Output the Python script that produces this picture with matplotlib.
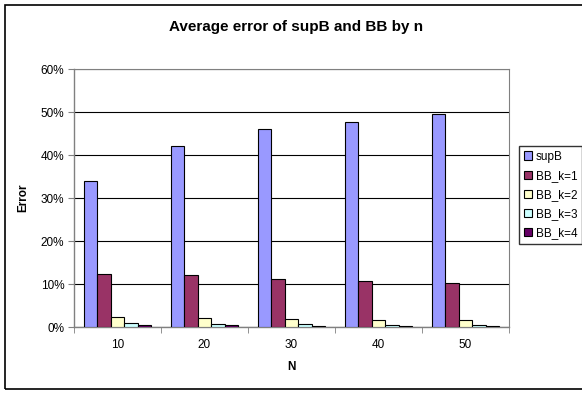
import numpy as np
from matplotlib import pyplot as plt
from matplotlib.patches import Rectangle
from matplotlib.ticker import FuncFormatter

plt.rcParams['font.family'] = ['Liberation Sans', 'DejaVu Sans']

# values (fraction of 1)
n_values = ['10', '20', '30', '40', '50']
supB = [0.340, 0.421, 0.461, 0.478, 0.495]
bb_k1 = [0.1225, 0.120, 0.111, 0.107, 0.103]
bb_k2 = [0.0225, 0.020, 0.018, 0.016, 0.016]
bb_k3 = [0.0085, 0.008, 0.006, 0.0055, 0.004]
bb_k4 = [0.0045, 0.004, 0.002, 0.002, 0.002]

series = [supB, bb_k1, bb_k2, bb_k3, bb_k4]
names = ['supB', 'BB_k=1', 'BB_k=2', 'BB_k=3', 'BB_k=4']
colors = ['#9999FF', '#993366', '#FFFFCC', '#CCFFFF', '#660066']

fig = plt.figure(figsize=(5.82, 3.94), dpi=100)
ax = fig.add_axes([74 / 582, 1 - 327 / 394, 435 / 582, (327 - 69.3) / 394])

x = np.arange(len(n_values))
width = 1 / 6.5  # excel gap width 150%
for i, (vals, name, col) in enumerate(zip(series, names, colors)):
    offs = (i - 2) * width
    ax.bar(x + offs, vals, width, color=col, edgecolor='black', linewidth=0.8,
           label=name, zorder=3)

ax.set_xlim(-0.5, len(n_values) - 0.5)
ax.set_ylim(0, 0.6)
ax.set_yticks(np.arange(0, 0.61, 0.1))
ax.yaxis.set_major_formatter(FuncFormatter(lambda v, p: f'{v * 100:.0f}%'))
ax.set_xticks(x)
ax.set_xticklabels(n_values)
ax.set_xticks(np.arange(-0.5, len(n_values)), minor=True)
ax.tick_params(axis='x', which='major', length=0, labelsize=8.5, pad=9)
ax.tick_params(axis='x', which='minor', length=4, color='#808080', direction='out')
ax.tick_params(axis='y', length=4, color='#808080', labelsize=8.5, pad=3)

ax.grid(True, axis='y', color='black', linewidth=0.8, zorder=0)
ax.set_axisbelow(True)
for side in ['left', 'bottom']:
    ax.spines[side].set_color('#808080')
    ax.spines[side].set_linewidth(1.0)
for side in ['top', 'right']:
    ax.spines[side].set_color('#808080')
    ax.spines[side].set_linewidth(0.8)

ax.set_xlabel('N', fontsize=8.5, fontweight='bold', labelpad=7)
ax.set_ylabel('Error', fontsize=8.5, fontweight='bold', labelpad=8)

fig.text(296 / 582, 1 - 27 / 394, 'Average error of supB and BB by n',
         fontsize=11, fontweight='bold', ha='center', va='center')

leg = fig.legend(loc='upper left', bbox_to_anchor=(519 / 582, 1 - 146 / 394),
                 fontsize=8.5, frameon=True, fancybox=False, edgecolor='black',
                 handlelength=0.7, handleheight=0.7, handletextpad=0.3,
                 labelspacing=0.6, borderpad=0.4, borderaxespad=0)
leg.get_frame().set_linewidth(1.0)

# outer chart frame
fig.patches.append(Rectangle((5 / 582, 1 - 389 / 394), 600 / 582, 384 / 394,
                             transform=fig.transFigure, fill=False,
                             edgecolor='black', linewidth=1.2))

fig.savefig('out.png', dpi=100)
